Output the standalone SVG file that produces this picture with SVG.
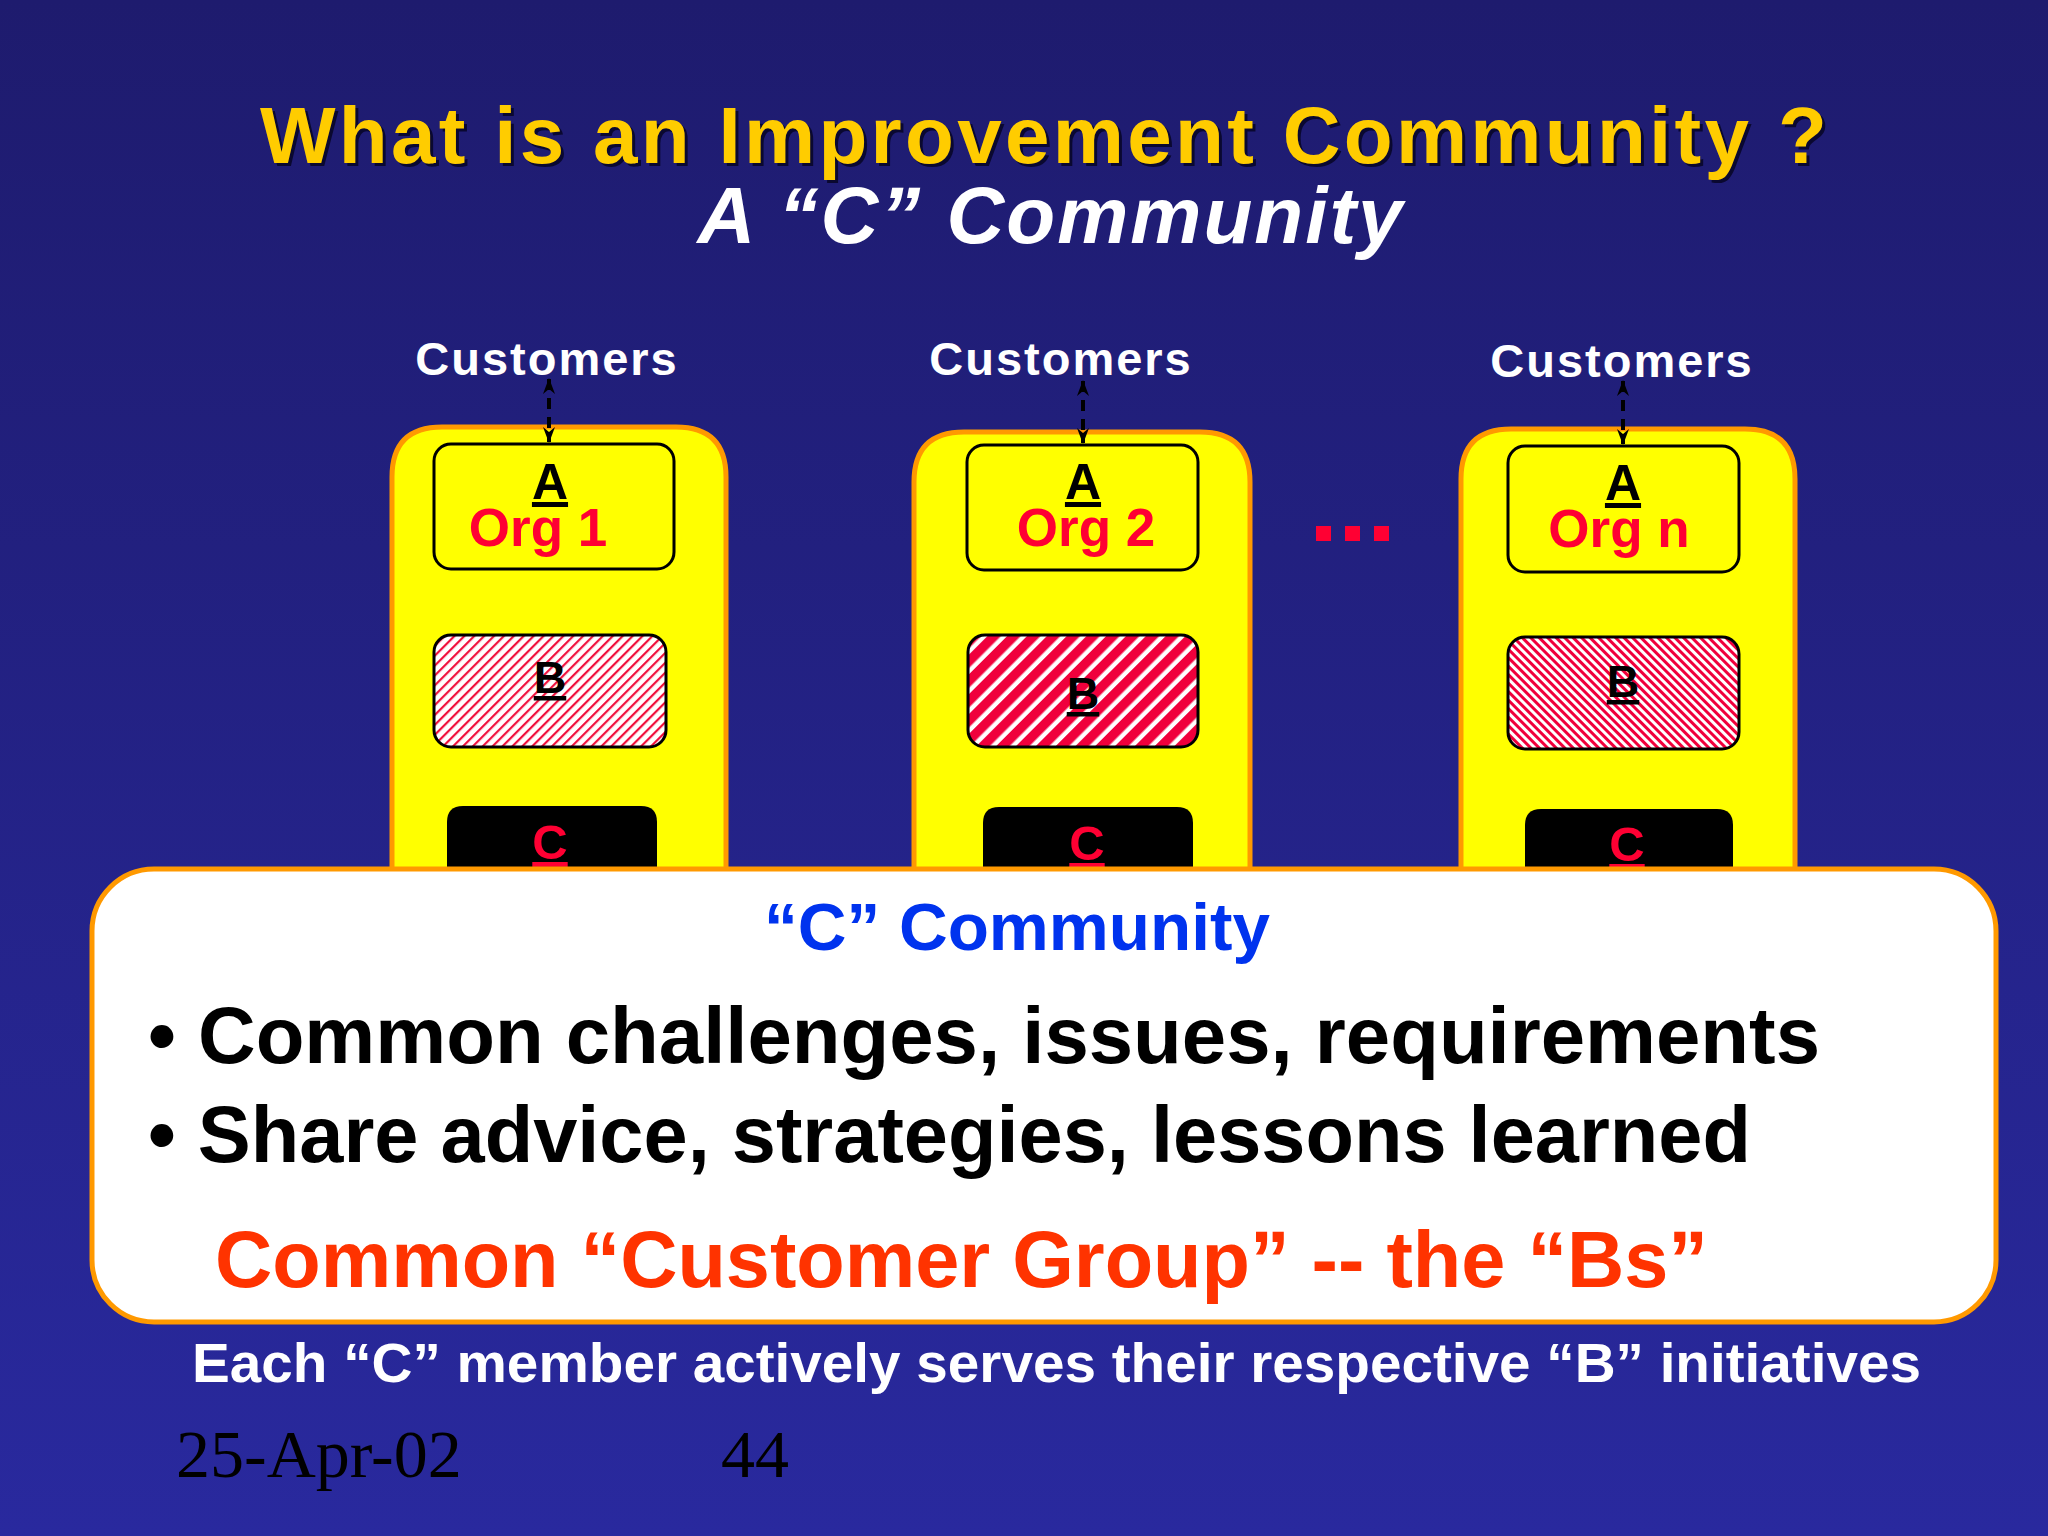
<svg xmlns="http://www.w3.org/2000/svg" width="2048" height="1536" viewBox="0 0 2048 1536">
  <defs>
    <linearGradient id="bg" x1="0" y1="0" x2="0" y2="1">
      <stop offset="0" stop-color="#1E1B6E"/>
      <stop offset="1" stop-color="#29299E"/>
    </linearGradient>
    <pattern id="hatch1" patternUnits="userSpaceOnUse" width="7" height="7" patternTransform="rotate(45)">
      <rect width="7" height="7" fill="#FFFFFF"/>
      <rect x="0" y="0" width="2.2" height="7" fill="#F0103C"/>
    </pattern>
    <pattern id="hatch2" patternUnits="userSpaceOnUse" width="14" height="14" patternTransform="rotate(45)">
      <rect width="14" height="14" fill="#FFFFFF"/>
      <rect x="0" y="0" width="9.5" height="14" fill="#F0003C"/>
    </pattern>
    <pattern id="hatch3" patternUnits="userSpaceOnUse" width="6" height="6" patternTransform="rotate(-45)">
      <rect width="6" height="6" fill="#FFFFFF"/>
      <rect x="0" y="0" width="3" height="6" fill="#F0003C"/>
    </pattern>
    <marker id="ah" viewBox="0 0 16 14" refX="15" refY="7" markerWidth="16" markerHeight="14" markerUnits="userSpaceOnUse" orient="auto-start-reverse">
      <path d="M0,1 L16,7 L0,13 L5,7 Z" fill="#000000"/>
    </marker>
  </defs>
  <style>
    .sans { font-family: "Liberation Sans", Arial, sans-serif; font-weight: bold; }
    .org { fill: #FFFF00; stroke: #FF9900; stroke-width: 5; }
    .abox { fill: #FFFF00; stroke: #000000; stroke-width: 3; }
    .bbox { stroke: #000000; stroke-width: 3; }
    .cbox { fill: #000000; }
    .cust { fill: #FFFFFF; font-size: 47px; letter-spacing: 2px; text-anchor: middle; }
    .lblA { fill: #000000; font-size: 50px; text-anchor: middle; text-decoration: underline; }
    .lblB { fill: #000000; font-size: 45px; text-anchor: middle; text-decoration: underline; }
    .lblC { fill: #FF0033; font-size: 49px; text-anchor: middle; text-decoration: underline; }
    .orgname { fill: #FF0033; font-size: 53px; text-anchor: middle; }
    .conn { stroke: #000000; stroke-width: 4; stroke-dasharray: 11 8; fill: none; }
    .dot { fill: #FF0033; }
  </style>

  <rect x="0" y="0" width="2048" height="1536" fill="url(#bg)"/>

  <g id="title">
    <text x="1048" y="166" class="sans" font-size="80" letter-spacing="3.3" text-anchor="middle" fill="#0A0830">What is an Improvement Community ?</text>
    <text x="1045" y="163" class="sans" font-size="80" letter-spacing="3.3" text-anchor="middle" fill="#FFCC00">What is an Improvement Community ?</text>
    <text x="1051" y="243" class="sans" font-size="80" font-style="italic" letter-spacing="2" text-anchor="middle" fill="#FFFFFF">A “C” Community</text>
  </g>

  <g id="org1">
    <text x="547" y="375" class="sans cust">Customers</text>
    <path class="org" d="M392,900 V477 Q392,427 442,427 H676 Q726,427 726,477 V900 Z"/>
    <rect class="abox" x="434" y="444" width="240" height="125" rx="17"/>
    <text x="550" y="499" class="sans lblA">A</text>
    <text x="538" y="546" class="sans orgname">Org 1</text>
    <rect class="bbox" x="434" y="635" width="232" height="112" rx="17" fill="url(#hatch1)"/>
    <text x="550" y="693" class="sans lblB">B</text>
    <path class="cbox" d="M447,900 V822 Q447,806 463,806 H641 Q657,806 657,822 V900 Z"/>
    <text x="550" y="859" class="sans lblC">C</text>
  </g>

  <g id="org2">
    <text x="1061" y="375" class="sans cust">Customers</text>
    <path class="org" d="M914,900 V482 Q914,432 964,432 H1200 Q1250,432 1250,482 V900 Z"/>
    <rect class="abox" x="967" y="445" width="231" height="125" rx="17"/>
    <text x="1083" y="499" class="sans lblA">A</text>
    <text x="1086" y="546" class="sans orgname">Org 2</text>
    <rect class="bbox" x="968" y="635" width="230" height="112" rx="17" fill="url(#hatch2)"/>
    <text x="1083" y="709" class="sans lblB">B</text>
    <path class="cbox" d="M983,900 V823 Q983,807 999,807 H1177 Q1193,807 1193,823 V900 Z"/>
    <text x="1087" y="860" class="sans lblC">C</text>
  </g>

  <g id="ellipsis">
    <rect class="dot" x="1316" y="526" width="15" height="15"/>
    <rect class="dot" x="1345" y="526" width="15" height="15"/>
    <rect class="dot" x="1374" y="526" width="15" height="15"/>
  </g>

  <g id="orgn">
    <text x="1622" y="377" class="sans cust">Customers</text>
    <path class="org" d="M1461,900 V479 Q1461,429 1511,429 H1745 Q1795,429 1795,479 V900 Z"/>
    <rect class="abox" x="1508" y="446" width="231" height="126" rx="17"/>
    <text x="1623" y="500" class="sans lblA">A</text>
    <text x="1619" y="547" class="sans orgname">Org n</text>
    <rect class="bbox" x="1508" y="637" width="231" height="112" rx="17" fill="url(#hatch3)"/>
    <text x="1623" y="697" class="sans lblB">B</text>
    <path class="cbox" d="M1525,900 V825 Q1525,809 1541,809 H1717 Q1733,809 1733,825 V900 Z"/>
    <text x="1627" y="861" class="sans lblC">C</text>
  </g>

  <g id="connectors">
    <line class="conn" x1="549" y1="379" x2="549" y2="442" marker-start="url(#ah)" marker-end="url(#ah)"/>
    <line class="conn" x1="1083" y1="381" x2="1083" y2="443" marker-start="url(#ah)" marker-end="url(#ah)"/>
    <line class="conn" x1="1623" y1="381" x2="1623" y2="444" marker-start="url(#ah)" marker-end="url(#ah)"/>
  </g>

  <g id="community">
    <rect x="92" y="869" width="1904" height="453" rx="62" ry="62" fill="#FFFFFF" stroke="#FF9900" stroke-width="5"/>
    <text x="1017" y="950" class="sans" font-size="67" text-anchor="middle" fill="#0033EE" textLength="506" lengthAdjust="spacingAndGlyphs">“C” Community</text>
    <text x="148" y="1063" class="sans" font-size="79" fill="#000000" textLength="1672" lengthAdjust="spacingAndGlyphs">• Common challenges, issues, requirements</text>
    <text x="148" y="1162" class="sans" font-size="79" fill="#000000" textLength="1603" lengthAdjust="spacingAndGlyphs">• Share advice, strategies, lessons learned</text>
    <text x="215" y="1287" class="sans" font-size="79" fill="#FF3300" textLength="1493" lengthAdjust="spacingAndGlyphs">Common “Customer Group” -- the “Bs”</text>
  </g>

  <g id="footer">
    <text x="192" y="1382" class="sans" font-size="56" fill="#FFFFFF" textLength="1729" lengthAdjust="spacingAndGlyphs">Each “C” member actively serves their respective “B” initiatives</text>
    <text x="176" y="1477" font-family="'Liberation Serif', 'Times New Roman', serif" font-size="68" fill="#000000">25-Apr-02</text>
    <text x="721" y="1477" font-family="'Liberation Serif', 'Times New Roman', serif" font-size="68" fill="#000000">44</text>
  </g>
</svg>
